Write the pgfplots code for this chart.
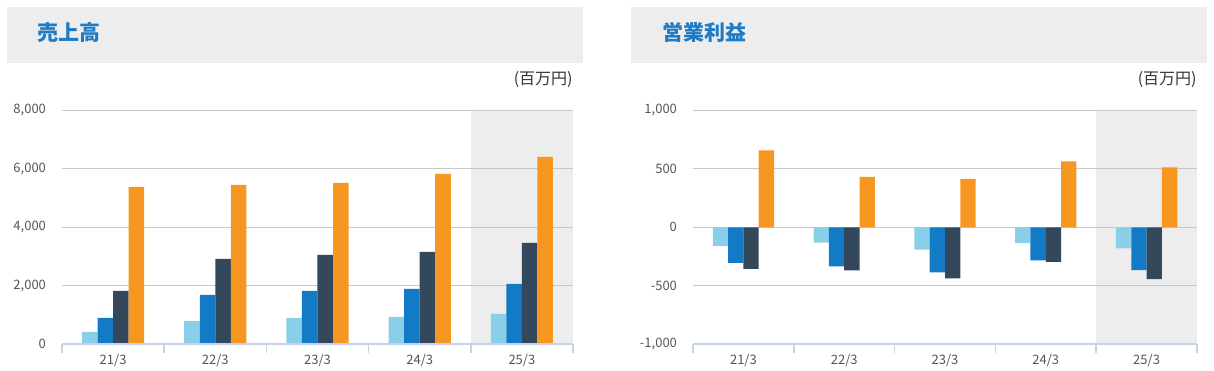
\documentclass[border=0pt]{standalone}
\usepackage{fontspec}
\setmainfont{Noto Sans CJK JP}
\usepackage{pgfplots}
\pgfplotsset{compat=1.18}
\definecolor{c1}{HTML}{89CFEA}
\definecolor{c2}{HTML}{137AC5}
\definecolor{c3}{HTML}{33485A}
\definecolor{c4}{HTML}{F69721}
\definecolor{hdr}{HTML}{EDEDED}
\definecolor{titleblue}{HTML}{1E7BC4}
\definecolor{gridc}{HTML}{C8C8C8}
\definecolor{axc}{HTML}{C4D4E8}
\definecolor{tickc}{HTML}{555555}
\definecolor{unitc}{HTML}{333333}

\pgfplotsset{
  mystyle/.style={
    scale only axis, height=117pt, anchor=south west, set layers,
    xmin=-0.5, xmax=4.5, xtick={0,1,2,3,4},
    xticklabels={21/3,22/3,23/3,24/3,25/3},
    minor xtick={-0.5,0.5,1.5,2.5,3.5,4.5},
    axis line style={draw=none},
    tick pos=left,
    major tick length=0pt, minor tick length=4.5pt, tick align=outside,
    major x tick style={draw=none},
    minor x tick style={draw=axc, line width=0.8pt},
    ytick style={draw=none},
    ymajorgrids, grid style={draw=gridc, line width=0.6pt},
    tick label style={font=\fontsize{6.5}{7}\selectfont, text=tickc},
    xticklabel style={yshift=-1.5pt},
    yticklabel style={xshift=-4.5pt},
    /pgf/number format/assume math mode=true,
    /pgf/number format/1000 sep={,},
    clip=false,
  },
  b1/.style={ybar, bar width=0.152, bar shift=-0.228, fill=c1, draw=none},
  b2/.style={ybar, bar width=0.152, bar shift=-0.076, fill=c2, draw=none},
  b3/.style={ybar, bar width=0.152, bar shift=0.076, fill=c3, draw=none},
  b4/.style={ybar, bar width=0.152, bar shift=0.228, fill=c4, draw=none},
}

\begin{document}
\begin{tikzpicture}
% headers (coordinates: 1 px = 0.5pt, origin bottom-left)
\fill[hdr] (3.5pt,153.65pt) rectangle (291.5pt,181.5pt);
\fill[hdr] (315.5pt,153.65pt) rectangle (603.5pt,181.5pt);
\node[anchor=west, inner sep=0pt, text=titleblue, font=\fontsize{10.5}{12}\selectfont\bfseries] at (18.5pt,168.5pt) {売上高};
\node[anchor=west, inner sep=0pt, text=titleblue, font=\fontsize{10.5}{12}\selectfont\bfseries] at (331pt,168.5pt) {営業利益};
\node[anchor=east, inner sep=0pt, text=unitc, font=\fontsize{8}{9}\selectfont] at (286.5pt,145pt) {(百万円)};
\node[anchor=east, inner sep=0pt, text=unitc, font=\fontsize{8}{9}\selectfont] at (598.5pt,145pt) {(百万円)};

\begin{axis}[mystyle, at={(31pt,12.85pt)}, width=255.5pt,
  ymin=0, ymax=8000, ytick={0,2000,4000,6000,8000}]
  \begin{pgfonlayer}{axis background}
    \fill[hdr] (axis cs:3.5,0) rectangle (axis cs:4.5,8000);
  \end{pgfonlayer}
  \begin{pgfonlayer}{axis foreground}
    \draw[axc, line width=1pt] (rel axis cs:0,0) -- (rel axis cs:1,0);
  \end{pgfonlayer}
  \addplot[b1] coordinates {(0,422) (1,798) (2,900) (3,934) (4,1037)};
  \addplot[b2] coordinates {(0,900) (1,1687) (2,1823) (3,1892) (4,2063)};
  \addplot[b3] coordinates {(0,1823) (1,2917) (2,3054) (3,3157) (4,3464)};
  \addplot[b4] coordinates {(0,5379) (1,5447) (2,5516) (3,5823) (4,6405)};
\end{axis}

\begin{axis}[mystyle, at={(346.5pt,12.85pt)}, width=252pt,
  ymin=-1000, ymax=1000, ytick={-1000,-500,0,500,1000}]
  \begin{pgfonlayer}{axis background}
    \fill[hdr] (axis cs:3.5,-1000) rectangle (axis cs:4.5,1000);
  \end{pgfonlayer}
  \begin{pgfonlayer}{axis foreground}
    \draw[axc, line width=1pt] (rel axis cs:0,0) -- (rel axis cs:1,0);
  \end{pgfonlayer}
  \addplot[b1] coordinates {(0,-160) (1,-131) (2,-190) (3,-135) (4,-180)};
  \addplot[b2] coordinates {(0,-305) (1,-335) (2,-385) (3,-282) (4,-366)};
  \addplot[b3] coordinates {(0,-356) (1,-368) (2,-437) (3,-296) (4,-442)};
  \addplot[b4] coordinates {(0,658) (1,430) (2,413) (3,563) (4,513)};
\end{axis}
\pgfresetboundingbox
\path (0pt,0pt) rectangle (607pt,185pt);
\end{tikzpicture}
\end{document}
